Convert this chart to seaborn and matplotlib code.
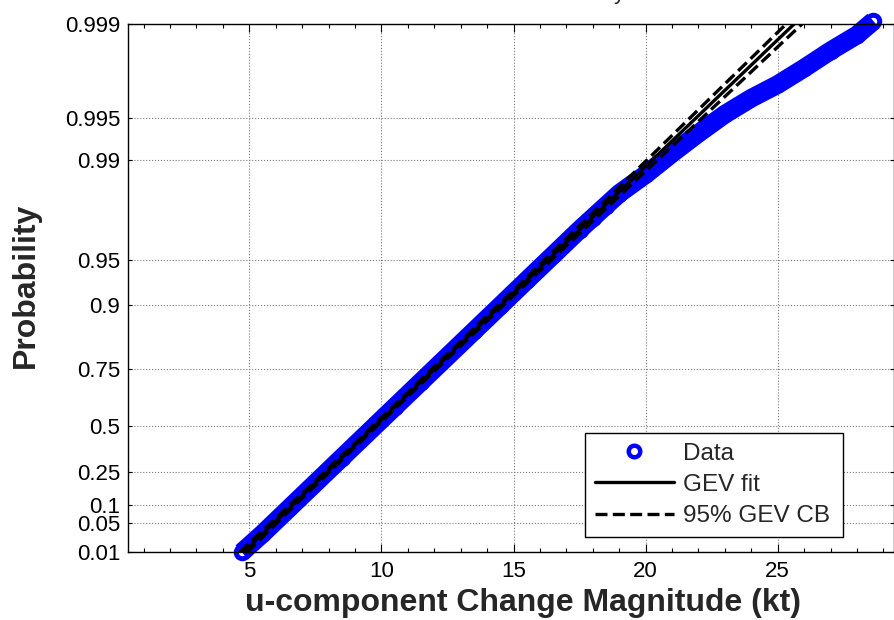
import numpy as np
import matplotlib
matplotlib.use("Agg")
import matplotlib.pyplot as plt
import seaborn as sns
from matplotlib.lines import Line2D
from matplotlib.ticker import FixedLocator, MultipleLocator, NullLocator

# ---------------- data ----------------
GEV_K = -0.02  # shape of the GEV probability-paper axis

prob_ticks = [0.01, 0.05, 0.1, 0.25, 0.5, 0.75, 0.9, 0.95, 0.99, 0.995, 0.999]
prob_tick_labels = ["0.01", "0.05", "0.1", "0.25", "0.5", "0.75", "0.9",
                    "0.95", "0.99", "0.995", "0.999"]
x_ticks = [5, 10, 15, 20, 25]

data_x = [4.72, 5.5, 6.5, 7.5, 8.5, 9.5, 10.5, 11.5, 12.5, 13.5, 14.5, 15.5,
          16.5, 17.5, 18.0, 18.5, 19.0, 20.0, 21.0, 22.0, 23.0, 24.0, 25.0,
          26.0, 27.0, 28.0, 28.62]
data_p = [0.0100, 0.0300, 0.0900, 0.1922, 0.3243, 0.4645, 0.5942, 0.7031,
          0.7884, 0.8522, 0.8983, 0.9309, 0.9534, 0.9688, 0.97430, 0.97884,
          0.98260, 0.98726, 0.99100, 0.99356, 0.99532, 0.99643, 0.99717,
          0.99786, 0.99841, 0.99879, 0.99905]

fit_p = [0.01, 0.1, 0.5, 0.9, 0.95, 0.99, 0.995, 0.999]
fit_x = [4.77, 6.62, 9.76, 14.54, 16.32, 20.26, 21.90, 25.62]
cb_lo_x = [4.62, 6.52, 9.68, 14.44, 16.19, 20.06, 21.67, 25.32]
cb_hi_x = [4.92, 6.72, 9.84, 14.64, 16.45, 20.46, 22.13, 25.92]

# ---------------- probability-paper scale ----------------
def fwd(p):
    p = np.clip(np.asarray(p, dtype=float), 1e-12, 1 - 1e-12)
    L = -np.log(p)
    return (L ** (-GEV_K) - 1.0) / GEV_K


def inv(t):
    t = np.asarray(t, dtype=float)
    base = np.clip(1.0 + GEV_K * t, 1e-12, None)
    return np.exp(-base ** (-1.0 / GEV_K))


sns.set_style("ticks")
plt.rcParams["font.family"] = ["Liberation Sans", "DejaVu Sans"]

fig = plt.figure(figsize=(8.95, 6.2), dpi=100)
ax = fig.add_axes([0.1427, 0.1092, 0.8562, 0.8521])
ax.set_yscale("function", functions=(fwd, inv))

# data: thick blue band of ring markers
sns.lineplot(x=data_x, y=data_p, ax=ax, color="blue", linewidth=13.5,
             solid_capstyle="butt", solid_joinstyle="round", marker="o",
             markersize=9.0, markeredgewidth=3.6, markerfacecolor="none",
             markeredgecolor="blue", clip_on=False, zorder=2, legend=False)

# GEV fit and confidence bounds
LW = 2.4
DASH = (0, (3.6, 1.6))
sns.lineplot(x=fit_x, y=fit_p, ax=ax, color="black", linewidth=LW,
             zorder=4, legend=False)
sns.lineplot(x=cb_lo_x, y=fit_p, ax=ax, color="black", linewidth=LW,
             linestyle=DASH, zorder=4, legend=False)
sns.lineplot(x=cb_hi_x, y=fit_p, ax=ax, color="black", linewidth=LW,
             linestyle=DASH, zorder=4, legend=False)

ax.set_xlim(0.40, 29.40)
ax.set_ylim(0.01, 0.999)

ax.set_xticks(x_ticks)
ax.set_xticklabels([str(v) for v in x_ticks])
ax.xaxis.set_minor_locator(MultipleLocator(1))
ax.yaxis.set_major_locator(FixedLocator(prob_ticks))
ax.set_yticklabels(prob_tick_labels)
ax.yaxis.set_minor_locator(NullLocator())

ax.tick_params(axis="both", which="both", direction="in", top=True,
               right=True, colors="black", labelsize=16)
ax.tick_params(axis="x", which="major", length=6, width=0.8, pad=6)
ax.tick_params(axis="x", which="minor", length=3, width=0.8)
ax.tick_params(axis="y", which="major", length=3, width=0.8, pad=5.5)

ax.grid(True, which="major", linestyle=":", color="#7a7a7a", linewidth=0.8)
for s in ax.spines.values():
    s.set_color("black")
    s.set_linewidth(1.0)

ax.set_xlabel("u-component Change Magnitude (kt)", fontsize=23,
              fontweight="bold")
ax.set_ylabel("Probability", fontsize=23, fontweight="bold")
ax.xaxis.set_label_coords(0.5159, -0.0676)
ax.yaxis.set_label_coords(-0.1131, 0.505)

# partially cropped title (only the tail of the last letter shows)
fig.text(625 / 895, 621 / 620, "Probability", ha="right", va="baseline",
         fontsize=16)

handles = [
    Line2D([], [], linestyle="none", marker="o", markersize=8.3,
           markeredgewidth=3.2, markerfacecolor="none",
           markeredgecolor="blue"),
    Line2D([], [], color="black", linewidth=LW),
    Line2D([], [], color="black", linewidth=LW, linestyle=DASH),
]
leg = ax.legend(handles, ["Data", "GEV fit", "95% GEV CB"], loc="lower left",
                bbox_to_anchor=(0.5968, 0.0295, 0.3367, 0.2),
                mode="expand", borderaxespad=0,
                fontsize=17.5, handlelength=3.27, handletextpad=0.36,
                borderpad=0.39, labelspacing=0.38, fancybox=False,
                framealpha=1, edgecolor="black")
leg.get_frame().set_linewidth(1.0)

fig.savefig("out.png", dpi=100)
